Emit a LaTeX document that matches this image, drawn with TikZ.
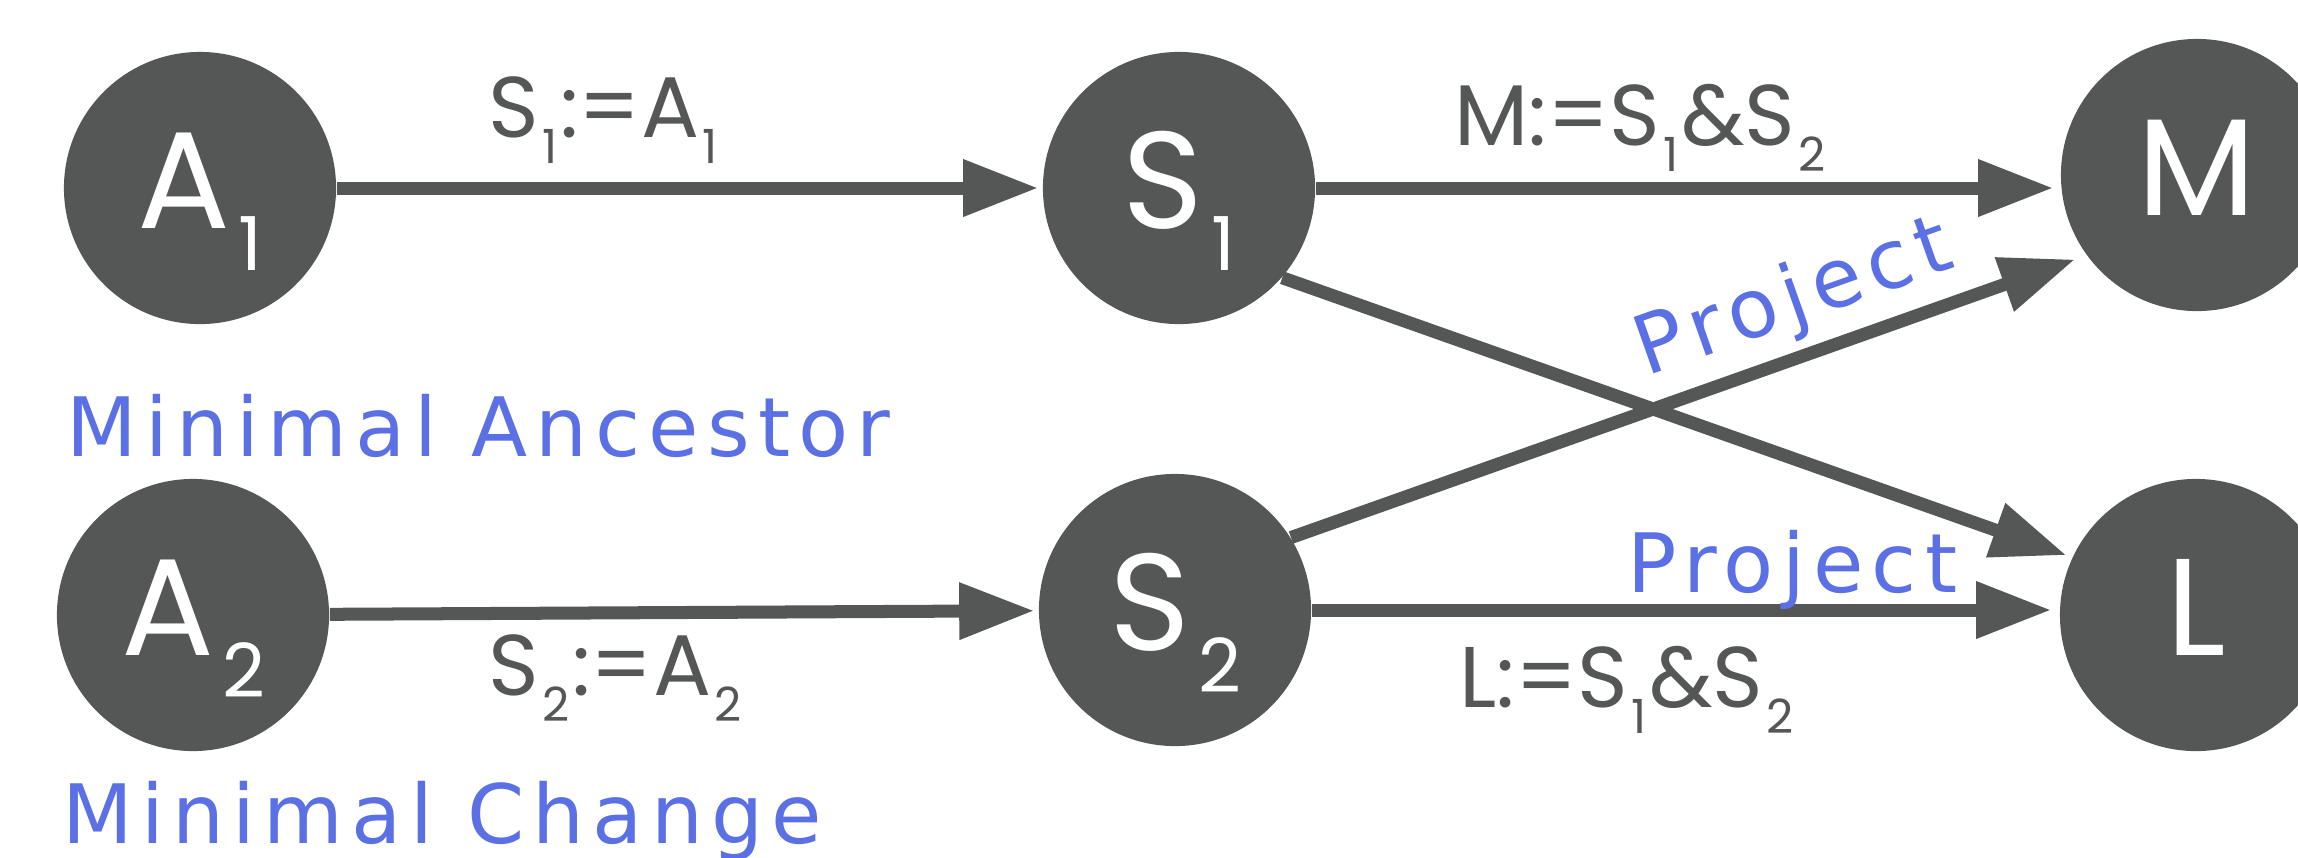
\documentclass[tikz,border=0pt]{standalone}
\usepackage{fontspec}
\setmainfont{Poppins}
\newfontfamily\bluefont[LetterSpace=10]{DejaVu Sans}
\usetikzlibrary{arrows.meta,backgrounds}
\definecolor{nodegray}{HTML}{555756}
\definecolor{lblblue}{HTML}{5B70E4}
\newcommand{\nsub}[2]{#1\kern0.08cm\raisebox{-0.42cm}{\fontsize{21.2}{22}\selectfont #2}}
\newcommand{\lsub}[1]{\kern0.03cm\raisebox{-0.26cm}{\fontsize{13.4}{14}\selectfont #1}\kern0.03cm}
\begin{document}
\begin{tikzpicture}[x=0.01cm, y=-0.01cm,
  state/.style={circle, fill=nodegray, minimum size=2.72cm, inner sep=0pt, text=white,
    font=\fontsize{39.2}{40}\selectfont, text height=0.80cm, text depth=0pt},
  conn/.style={draw=nodegray, line width=0.13cm, -{Triangle[length=0.75cm, width=0.54cm]}},
  graylabel/.style={text=nodegray, font=\fontsize{24.5}{26}\selectfont, inner sep=0pt, anchor=base west},
  bluelabel/.style={text=lblblue, font=\bluefont\fontsize{23.3}{25}\selectfont, inner sep=0pt, anchor=base west}]
\useasboundingbox (0,0) rectangle (2298,857);

\node[state] (A1) at (200,188) {\nsub{A}{1}};
\node[state] (S1) at (1179,188) {\nsub{S}{1}};
\node[state] (M) at (2197,175) {M};
\node[state] (A2) at (193,615) {\nsub{A}{2}};
\node[state] (S2) at (1175,610) {\nsub{S}{2}};
\node[state] (L) at (2196,615) {L};

\begin{pgfonlayer}{background}
\draw[conn, shorten >=0.04cm] (A1) -- (S1);
\draw[conn, shorten >=0.07cm] (S1.east) -- (S1.east -| M.west);
\draw[conn, shorten >=0.04cm] (A2) -- (S2);
\draw[conn, shorten >=0.08cm] (S2.east) -- (S2.east -| L.west);
\draw[conn, shorten >=0.06cm] (S1.-41) -- (L.155);
\draw[conn, shorten >=0.12cm] (S2.32) -- (M.216);
\end{pgfonlayer}

\node[graylabel] (t1) at (488,137) {S\lsub{1}:=A\lsub{1}};
\node[graylabel] (t2) at (488,695) {S\lsub{2}:=A\lsub{2}};
\node[graylabel] (t3) at (1454,145) {M:=S\lsub{1}\&S\lsub{2}};
\node[graylabel] (t4) at (1459,707) {L:=S\lsub{1}\&S\lsub{2}};

\node[bluelabel] (b1) at (66,456) {Minimal Ancestor};
\node[bluelabel] (b2) at (62,843) {Minimal Change};
\node[bluelabel] (b3) at (1627,592) {Project};
\node[bluelabel, rotate=19.5] (b4) at (1646,377) {Project};
\end{tikzpicture}
\end{document}
